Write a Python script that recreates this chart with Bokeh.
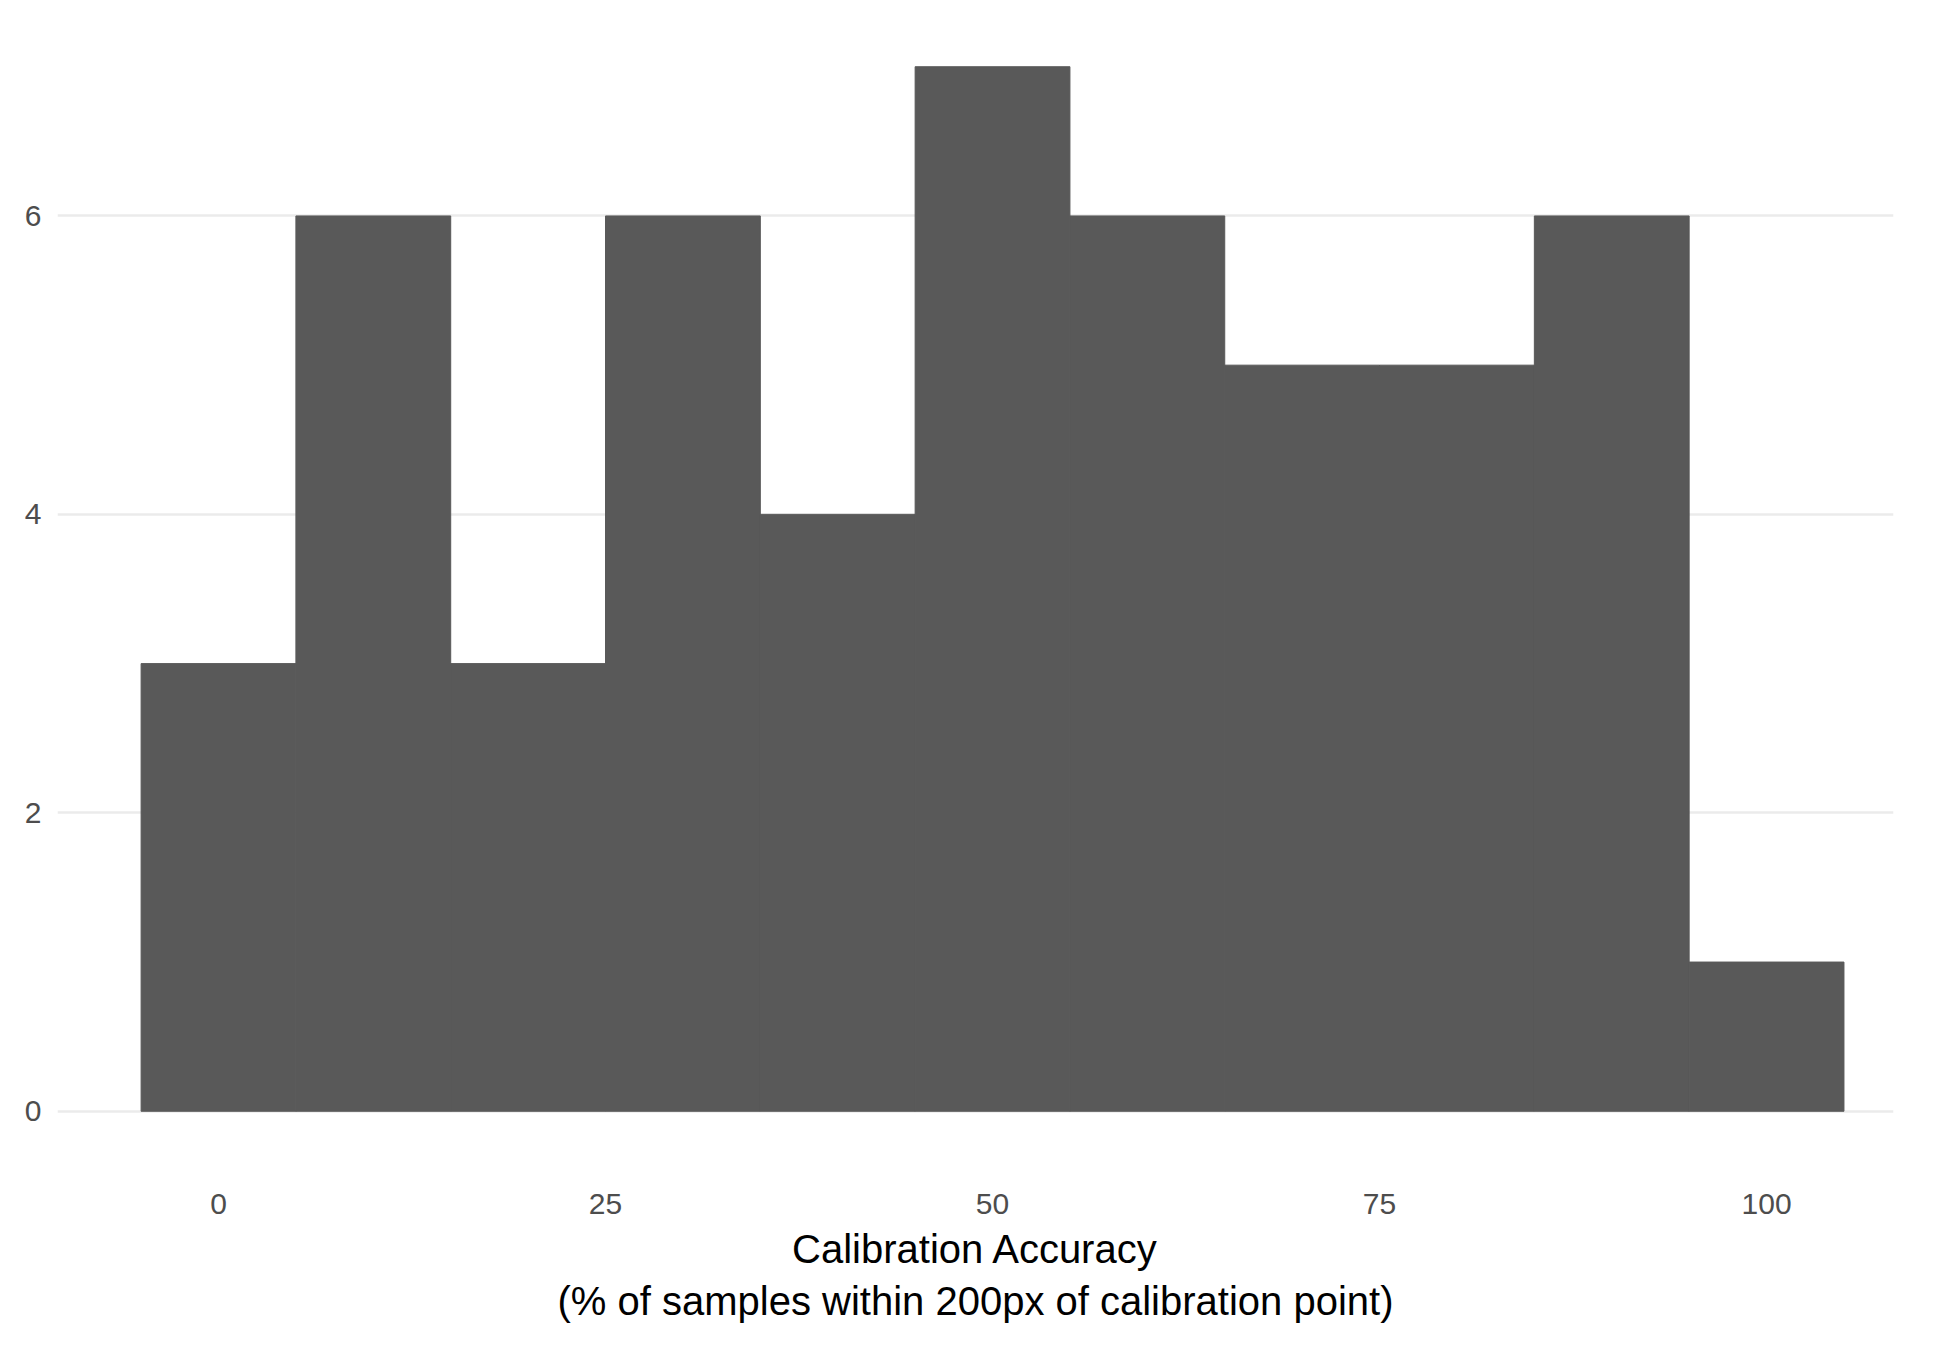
from bokeh.plotting import figure
from bokeh.models import FixedTicker
from bokeh.embed import file_html
from bokeh.resources import INLINE

bin_centers = [0, 10, 20, 30, 40, 50, 60, 70, 80, 90, 100]
counts = [3, 6, 3, 6, 4, 7, 6, 5, 5, 6, 1]
x_ticks = [0, 25, 50, 75, 100]
y_ticks = [0, 2, 4, 6]

p = figure(frame_width=1836, frame_height=1149, x_range=(-10.4, 108.2), y_range=(-0.35, 7.35),
           output_backend="svg", toolbar_location=None,
           min_border_left=57, min_border_right=41, min_border_top=14, min_border_bottom=170)
p.quad(left=[c - 5 for c in bin_centers], right=[c + 5 for c in bin_centers],
       bottom=0, top=counts, fill_color="#595959", line_color="#595959", line_width=1)

p.outline_line_color = None
p.xgrid.grid_line_color = None
p.ygrid.grid_line_color = "#ebebeb"
p.ygrid.grid_line_width = 2.5
p.xaxis.ticker = FixedTicker(ticks=x_ticks)
p.yaxis.ticker = FixedTicker(ticks=y_ticks)
for ax in (p.xaxis, p.yaxis):
    ax.axis_line_color = None
    ax.major_tick_line_color = None
    ax.minor_tick_line_color = None
    ax.major_label_text_color = "#4d4d4d"
    ax.major_label_text_font = "Liberation Sans"
    ax.major_label_text_font_size = "30px"
p.xaxis.major_label_standoff = 24
p.yaxis.major_label_standoff = 10
p.xaxis.axis_label = "Calibration Accuracy\n(% of samples within 200px of calibration point)"
p.xaxis.axis_label_text_font = "Liberation Sans"
p.xaxis.axis_label_text_font_style = "normal"
p.xaxis.axis_label_text_font_size = "40px"
p.xaxis.axis_label_text_color = "black"
p.xaxis.axis_label_standoff = 10

open("out.html", "w").write(file_html(p, INLINE))
